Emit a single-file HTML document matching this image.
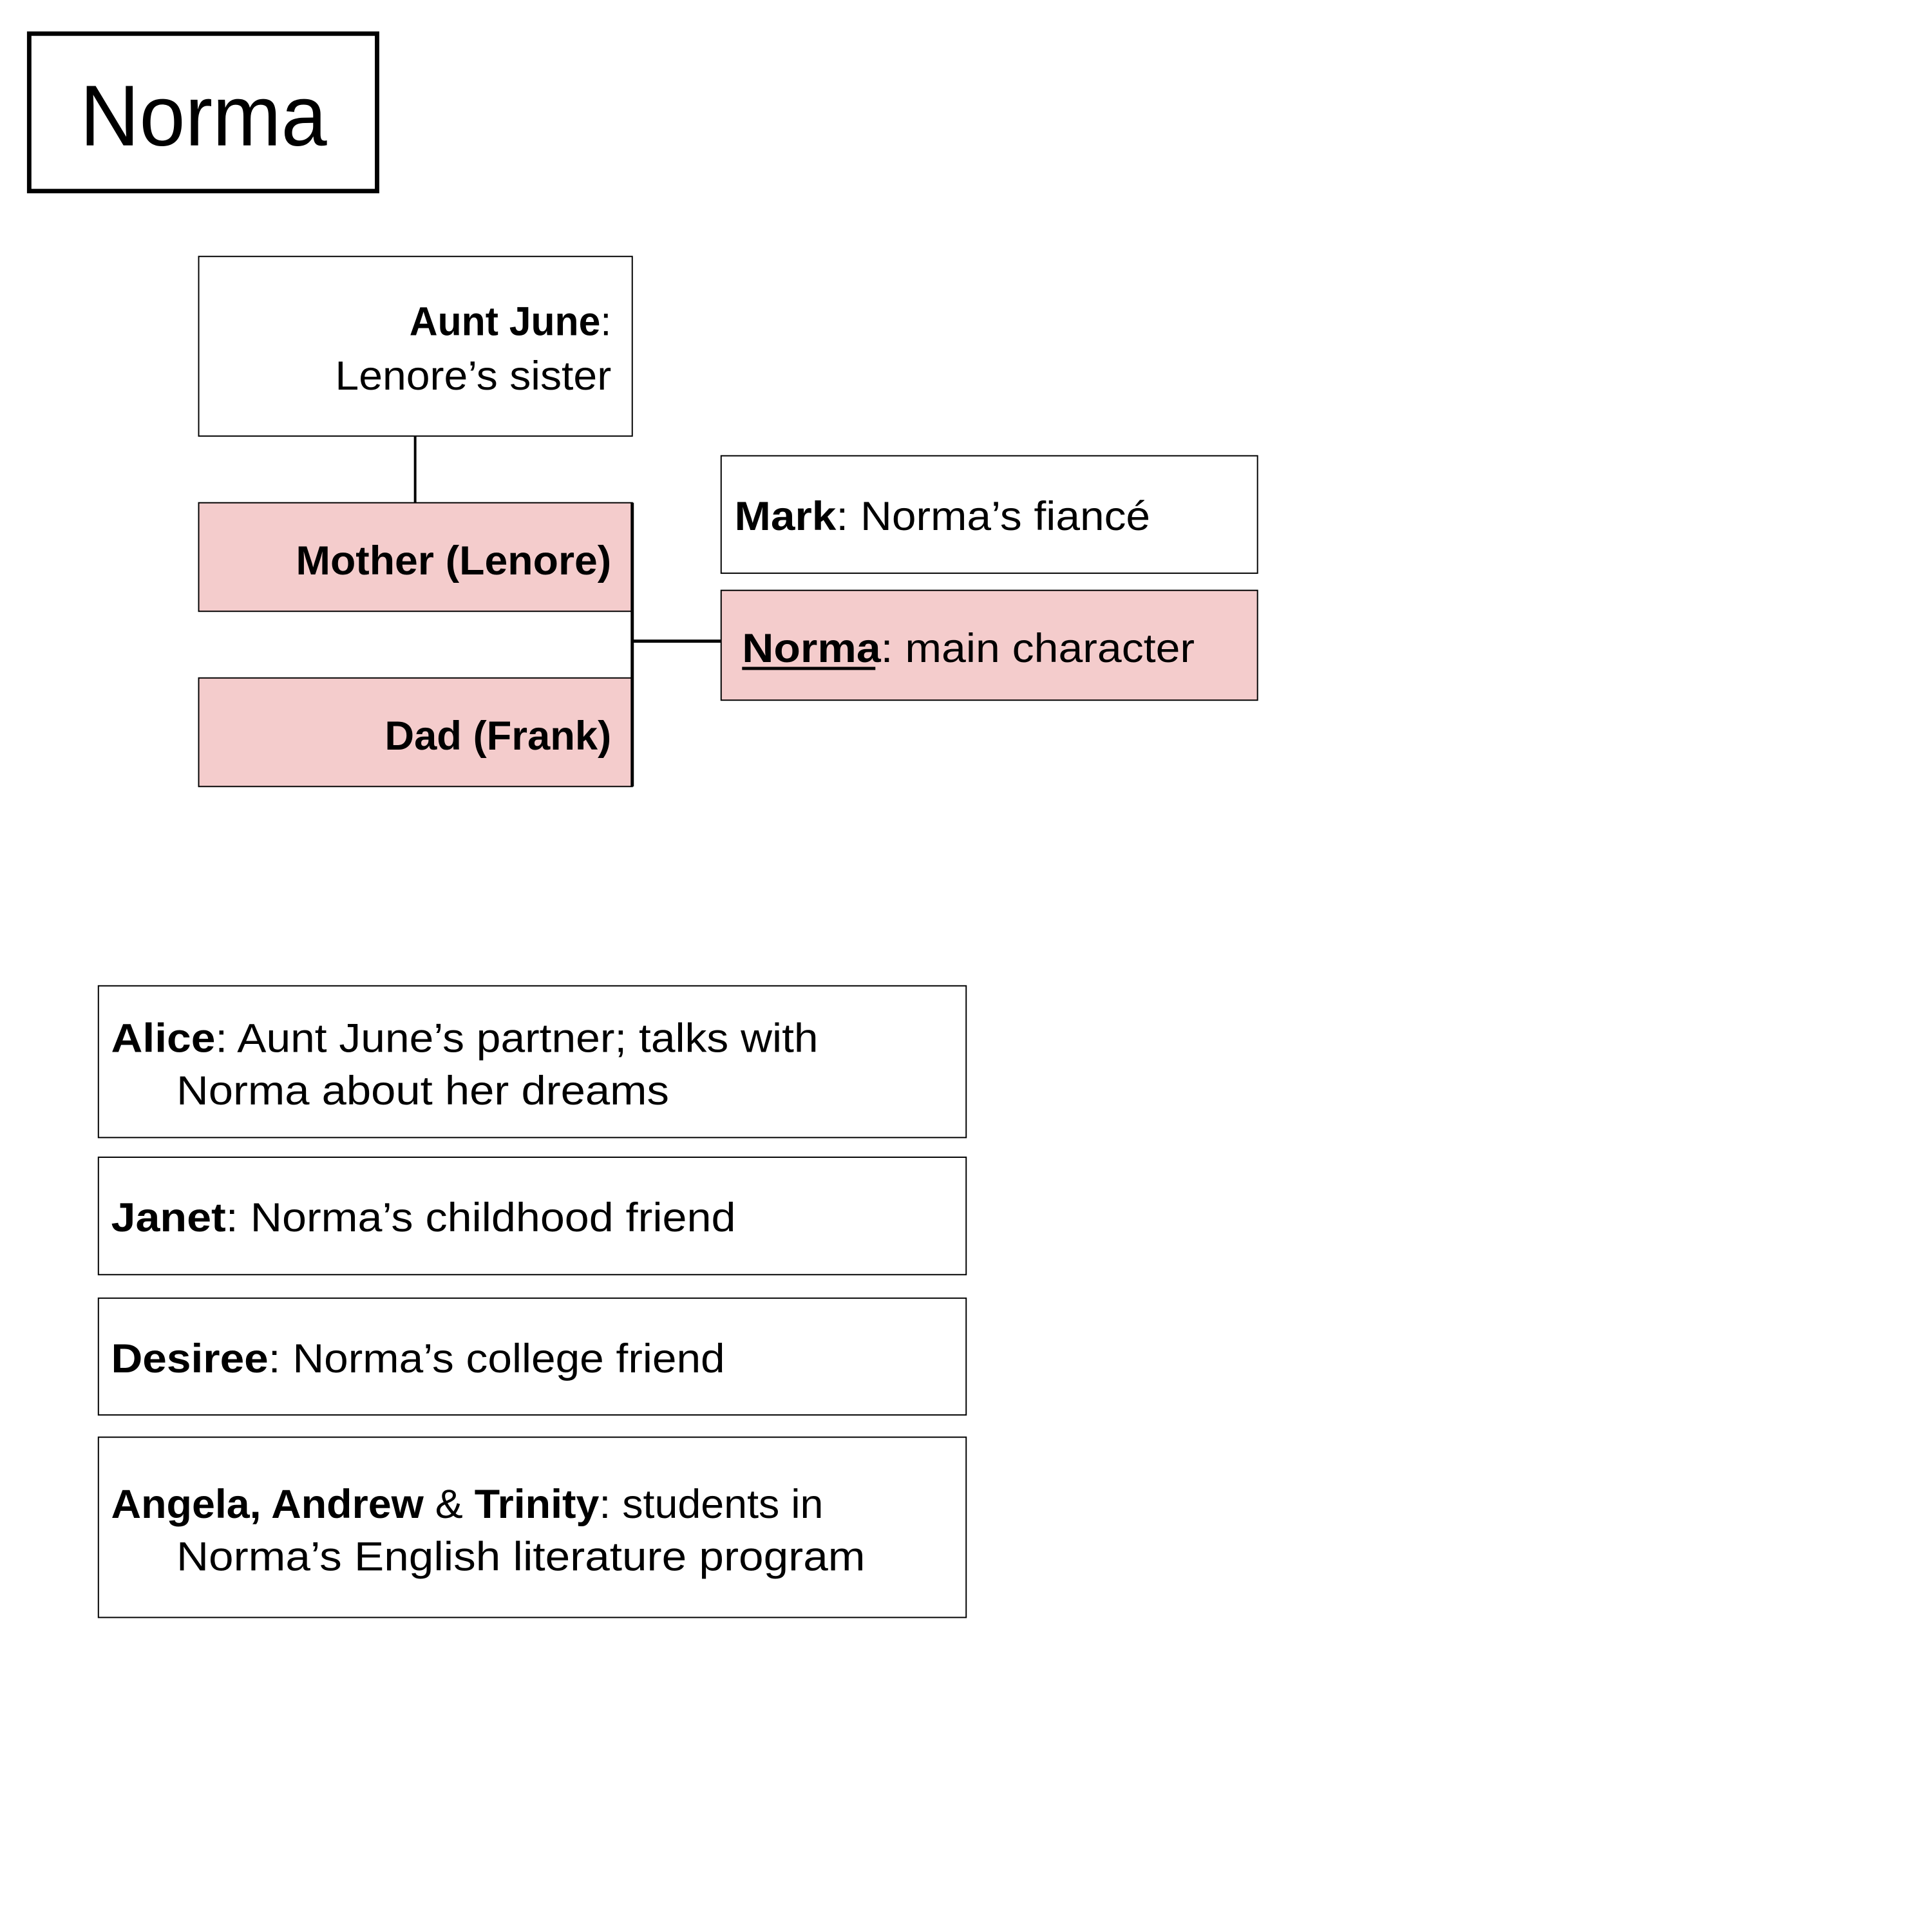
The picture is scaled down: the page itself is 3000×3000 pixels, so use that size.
<!DOCTYPE html>
<html><head><meta charset="utf-8"><style>html,body{margin:0;padding:0;background:#fff}svg{display:block}</style></head>
<body>
<svg width="3000" height="3000" viewBox="0 0 3000 3000" xmlns="http://www.w3.org/2000/svg" font-family="Liberation Sans, sans-serif" fill="#000">
<rect x="0" y="0" width="3000" height="3000" fill="#fff"/>
<g transform="scale(0.9857)">
<rect x="46" y="53" width="548" height="248" fill="#fff" stroke="#000" stroke-width="7"/>
<text x="126" y="229" font-size="136" textLength="389" lengthAdjust="spacingAndGlyphs">Norma</text>

<rect x="313" y="404" width="683" height="283" fill="#fff" stroke="#000" stroke-width="2"/>
<text x="963" y="528" font-size="64" text-anchor="end" textLength="318" lengthAdjust="spacingAndGlyphs"><tspan font-weight="bold">Aunt June</tspan>:</text>
<text x="963" y="614" font-size="64" text-anchor="end" textLength="435" lengthAdjust="spacingAndGlyphs">Lenore’s sister</text>

<line x1="654" y1="687" x2="654" y2="792" stroke="#000" stroke-width="4"/>

<rect x="313" y="792" width="683" height="171" fill="#f4cccc" stroke="#000" stroke-width="2"/>
<text x="963" y="905" font-size="64" font-weight="bold" text-anchor="end" textLength="497" lengthAdjust="spacingAndGlyphs">Mother (Lenore)</text>
<rect x="313" y="1068" width="683" height="171" fill="#f4cccc" stroke="#000" stroke-width="2"/>
<text x="963" y="1181" font-size="64" font-weight="bold" text-anchor="end" textLength="357" lengthAdjust="spacingAndGlyphs">Dad (Frank)</text>

<line x1="996" y1="792" x2="996" y2="1239" stroke="#000" stroke-width="5"/>
<line x1="996" y1="1010" x2="1136" y2="1010" stroke="#000" stroke-width="5"/>

<rect x="1136" y="718" width="845" height="185" fill="#fff" stroke="#000" stroke-width="2"/>
<text x="1157" y="835" font-size="64" textLength="655" lengthAdjust="spacingAndGlyphs"><tspan font-weight="bold">Mark</tspan>: Norma’s fiancé</text>
<rect x="1136" y="930" width="845" height="173" fill="#f4cccc" stroke="#000" stroke-width="2"/>
<text x="1169" y="1043" font-size="64" textLength="713" lengthAdjust="spacingAndGlyphs"><tspan font-weight="bold">Norma</tspan>: main character</text>
<line x1="1169" y1="1053" x2="1379" y2="1053" stroke="#000" stroke-width="5"/>

<rect x="155" y="1553" width="1367" height="239" fill="#fff" stroke="#000" stroke-width="2"/>
<text x="175" y="1657" font-size="64" textLength="1114" lengthAdjust="spacingAndGlyphs"><tspan font-weight="bold">Alice</tspan>: Aunt June’s partner; talks with</text>
<text x="278" y="1740" font-size="64" textLength="776" lengthAdjust="spacingAndGlyphs">Norma about her dreams</text>

<rect x="155" y="1823" width="1367" height="185" fill="#fff" stroke="#000" stroke-width="2"/>
<text x="175" y="1940" font-size="64" textLength="984" lengthAdjust="spacingAndGlyphs"><tspan font-weight="bold">Janet</tspan>: Norma’s childhood friend</text>

<rect x="155" y="2045" width="1367" height="184" fill="#fff" stroke="#000" stroke-width="2"/>
<text x="175" y="2162" font-size="64" textLength="967" lengthAdjust="spacingAndGlyphs"><tspan font-weight="bold">Desiree</tspan>: Norma’s college friend</text>

<rect x="155" y="2264" width="1367" height="284" fill="#fff" stroke="#000" stroke-width="2"/>
<text x="175" y="2391" font-size="64" textLength="1122" lengthAdjust="spacingAndGlyphs"><tspan font-weight="bold">Angela, Andrew</tspan> &amp; <tspan font-weight="bold">Trinity</tspan>: students in</text>
<text x="278" y="2474" font-size="64" textLength="1085" lengthAdjust="spacingAndGlyphs">Norma’s English literature program</text>
</g>
</svg>
</body></html>
